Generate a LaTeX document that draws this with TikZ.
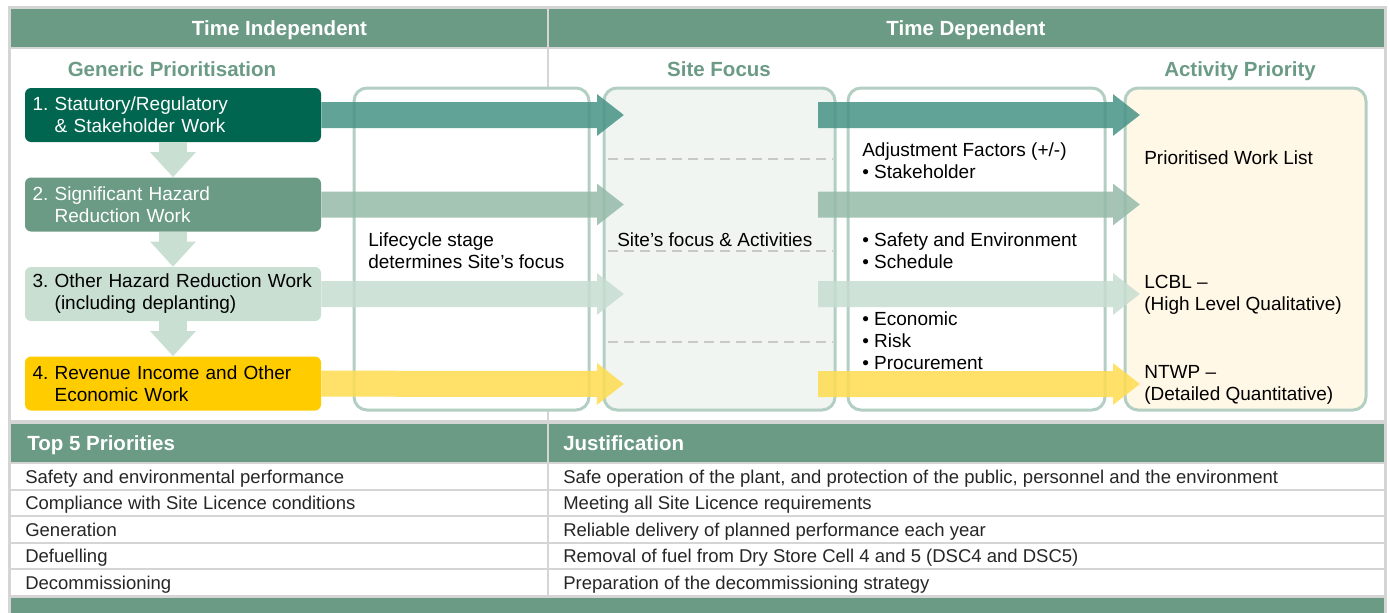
\documentclass[tikz,border=0pt]{standalone}
\usepackage{fontspec}
\setmainfont{Liberation Sans}
\usepackage{xcolor}
\usetikzlibrary{arrows.meta,positioning}

\definecolor{hdrgreen}{HTML}{6B9B85}
\definecolor{darkgreen}{HTML}{00664F}
\definecolor{palegreen}{HTML}{C8DFD2}
\definecolor{gold}{HTML}{FFCC00}
\definecolor{boxline}{HTML}{B3CFC3}
\definecolor{focusfill}{HTML}{F0F5F2}
\definecolor{listfill}{HTML}{FFF8E6}
\definecolor{rulegray}{HTML}{D5D5D5}
\definecolor{dashgray}{HTML}{C8C8C8}
\definecolor{flowA}{HTML}{479386}
\definecolor{flowB}{HTML}{95BAA8}
\definecolor{flowC}{HTML}{C7DDD0}
\definecolor{flowD}{HTML}{FFDC4F}

\newcommand{\bodyfont}{\fontsize{19}{22}\selectfont}
\newcommand{\rowfont}{\fontsize{18.5}{22}\selectfont}
\newcommand{\headfont}{\fontsize{20.5}{24}\selectfont\bfseries}

\tikzstyle{prio} = [rectangle, rounded corners=6pt, minimum width=296pt, minimum height=54pt, text width=281pt, inner sep=0pt, align=left, font=\bodyfont]
\tikzstyle{stage} = [rectangle, rounded corners=13pt, draw=boxline, line width=3pt, minimum height=322pt, inner sep=0pt]
\tikzstyle{note} = [anchor=west, align=left, inner sep=0pt, font=\bodyfont]
\tikzstyle{rowtext} = [anchor=base west, inner sep=0pt, font=\rowfont, text=black!85]
\tikzstyle{colhead} = [inner sep=0pt, font=\headfont, text=white, text height=14.7pt, text depth=0pt]
\tikzstyle{subhead} = [inner sep=0pt, font=\headfont, text=hdrgreen, text height=14.7pt, text depth=0pt]
\tikzstyle{flow} = [line width=26pt, -{Triangle[length=27pt,width=40pt]}]
\tikzstyle{drop} = [line width=28pt, palegreen, -{Triangle[length=25pt,width=44pt]}]
\tikzstyle{rule} = [rulegray, line width=2pt]

\begin{document}
\begin{tikzpicture}[x=1pt, y=-1pt, node distance=89.5pt, semithick]
  \useasboundingbox (0,0) rectangle (1390,613);

  % bands and rules
  \fill[hdrgreen] (11,9) rectangle (1384,47);
  \fill[hdrgreen] (11,424) rectangle (1384,462);
  \fill[hdrgreen] (11,598) rectangle (1384,613);
  \draw[rulegray, line width=3pt] (9.5,613) -- (9.5,7.5) -- (1385.5,7.5) -- (1385.5,613);
  \draw[rule] (11,48) -- (1384,48);
  \draw[rulegray, line width=4pt] (11,422) -- (1384,422);
  \draw[rule] (11,463) -- (1384,463);
  \draw[rule] (11,489.6) -- (1384,489.6);
  \draw[rule] (11,516.2) -- (1384,516.2);
  \draw[rule] (11,542.8) -- (1384,542.8);
  \draw[rule] (11,569.4) -- (1384,569.4);
  \draw[rulegray, line width=3pt] (11,596.5) -- (1384,596.5);
  \draw[rule] (548,9) -- (548,597);

  \node[colhead] (indep) at (279.5,28) {Time Independent};
  \node[colhead] (dep) at (966,28) {Time Dependent};
  \node[subhead] (generic) at (172,69) {Generic Prioritisation};
  \node[subhead] (sitefoc) at (719,69) {Site Focus};
  \node[subhead] (actprio) at (1240,69) {Activity Priority};

  % stage boxes
  \node[stage, fill=white, minimum width=235pt] (life) at (471.5,249) {};
  \node[stage, fill=focusfill, minimum width=231pt] (focus) at (719.5,249) {};
  \node[stage, fill=white, minimum width=257pt] (adjust) at (976.5,249) {};
  \node[stage, fill=listfill, minimum width=241pt] (worklist) at (1245.5,249) {};
  \draw[dashgray, line width=1.5pt, dash pattern=on 10pt off 6pt] (608,159) -- (833,159);
  \draw[dashgray, line width=1.5pt, dash pattern=on 10pt off 6pt] (608,251) -- (833,251);
  \draw[dashgray, line width=1.5pt, dash pattern=on 10pt off 6pt] (608,342) -- (833,342);

  \node[note] (lifetxt) at (368,251) {Lifecycle stage\\determines Site’s focus};
  \node[note] (focustxt) at (617,240) {Site’s focus \& Activities};
  \node[note] (adjA) at (862,161) {Adjustment Factors (+/-)\\• Stakeholder};
  \node[note] (adjB) at (862,251) {• Safety and Environment\\• Schedule};
  \node[note] (adjC) at (862,341) {• Economic\\• Risk\\• Procurement};
  \node[note] (listA) at (1144,158) {Prioritised Work List};
  \node[note] (listB) at (1144,295) {LCBL –\\(High Level Qualitative)};
  \node[note] (listC) at (1144,385) {NTWP –\\(Detailed Quantitative)};

  % generic prioritisation
  \node[prio, fill=darkgreen, text=white] (prio1) at (173,115) {1.~Statutory/Regulatory\\\hphantom{1.~}\& Stakeholder Work};
  \node[prio, fill=hdrgreen, text=white] (prio2) [below of=prio1] {2.~Significant Hazard\\\hphantom{2.~}Reduction Work};
  \node[prio, fill=palegreen] (prio3) [below of=prio2] {3.~Other Hazard Reduction Work\\\hphantom{3.~}(including deplanting)};
  \node[prio, fill=gold] (prio4) [below of=prio3] {4.~Revenue Income and Other\\\hphantom{4.~}Economic Work};

  \path (prio1) edge[drop] (prio2)
        (prio2) edge[drop] (prio3)
        (prio3) edge[drop] (prio4);

  \coordinate (tip1) at (624,115);
  \coordinate (tip2) at (624,204.5);
  \coordinate (tip3) at (624,294);
  \coordinate (tip4) at (624,384);
  \coordinate (out1) at (818,115);
  \coordinate (out2) at (818,204.5);
  \coordinate (out3) at (818,294);
  \coordinate (out4) at (818,384);
  \coordinate (end1) at (1140,115);
  \coordinate (end2) at (1140,204.5);
  \coordinate (end3) at (1140,294);
  \coordinate (end4) at (1140,384);

  \begin{scope}[transparency group, opacity=0.85]
    \path (prio1) edge[flow, flowA] (tip1)
          (out1) edge[flow, flowA] (end1)
          (prio2) edge[flow, flowB] (tip2)
          (out2) edge[flow, flowB] (end2)
          (prio3) edge[flow, flowC] (tip3)
          (out3) edge[flow, flowC] (end3)
          (prio4) edge[flow, flowD] (tip4)
          (out4) edge[flow, flowD] (end4);
  \end{scope}

  % top 5 table
  \node[colhead, anchor=west] (tophead) at (27,443) {Top 5 Priorities};
  \node[colhead, anchor=west] (justhead) at (563,443) {Justification};
  \node[rowtext] (r1a) at (25,483) {Safety and environmental performance};
  \node[rowtext] (r1b) at (563,483) {Safe operation of the plant, and protection of the public, personnel and the environment};
  \node[rowtext] (r2a) at (25,509.5) {Compliance with Site Licence conditions};
  \node[rowtext] (r2b) at (563,509.5) {Meeting all Site Licence requirements};
  \node[rowtext] (r3a) at (25,536) {Generation};
  \node[rowtext] (r3b) at (563,536) {Reliable delivery of planned performance each year};
  \node[rowtext] (r4a) at (25,562.7) {Defuelling};
  \node[rowtext] (r4b) at (563,562.7) {Removal of fuel from Dry Store Cell 4 and 5 (DSC4 and DSC5)};
  \node[rowtext] (r5a) at (25,589.3) {Decommissioning};
  \node[rowtext] (r5b) at (563,589.3) {Preparation of the decommissioning strategy};
\end{tikzpicture}
\end{document}
